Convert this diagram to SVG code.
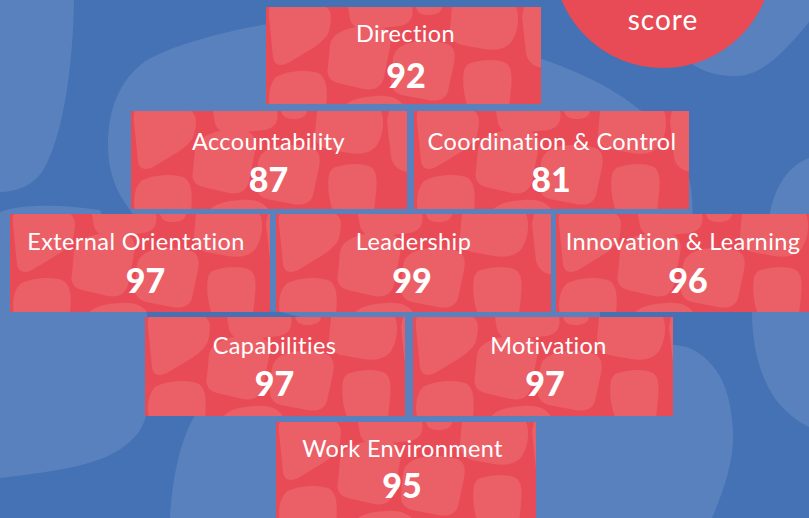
<svg xmlns="http://www.w3.org/2000/svg" width="809" height="518" viewBox="0 0 809 518">
<defs>
<style>
.bg{fill:#4472b4}
.blob{fill:#5881be}
.box{fill:#e84b55}
.tex{fill:url(#tex)}
.lbl{font-family:Lato,"Open Sans","Liberation Sans",sans-serif;font-size:23.5px;letter-spacing:0.4px;fill:#ffffff;text-anchor:middle}
.num{font-family:Lato,"Liberation Sans",sans-serif;font-weight:900;font-size:34px;fill:#ffffff;text-anchor:middle}
.score{font-family:Lato,"Open Sans","Liberation Sans",sans-serif;font-size:28px;fill:#ffffff;text-anchor:middle;letter-spacing:1px}
</style>
<pattern id="tex" patternUnits="objectBoundingBox" x="0" y="0" width="1" height="1">
<g fill="#eb5f67">
<path d="M4,0 L60,0 C66,4 66,12 63,24 C60,32 52,38 42,44 L22,56 C14,60 8,58 7,50 L4,20 C3,10 2,3 4,0 Z"/>
<path d="M70,28 C80,20 100,16 115,20 C124,23 126,30 124,40 L118,70 C116,80 108,84 98,82 L72,76 C64,74 60,68 62,60 L64,38 C65,33 67,30 70,28 Z"/>
<path d="M82,0 L146,0 C148,10 144,17 134,19 L102,22 C92,23 86,19 84,12 Z"/>
<path d="M132,42 C140,34 160,32 178,36 C188,38 190,46 188,56 L182,84 C180,92 172,95 162,93 L136,88 C128,86 124,80 125,72 L127,52 C128,47 129,44 132,42 Z"/>
<path d="M186,0 L250,0 C254,10 252,24 246,34 C240,42 230,44 218,42 L196,38 C188,36 184,30 184,22 Z"/>
<path d="M205,56 C218,52 232,52 240,56 C246,60 246,70 245,82 L243,100 L202,100 C198,90 196,75 198,64 C199,60 201,57 205,56 Z"/>
<path d="M10,70 C20,64 40,62 52,66 C60,70 62,80 60,100 L4,100 C2,90 3,78 10,70 Z"/>
<path d="M78,100 C82,94 92,90 110,89 C125,88 134,92 138,100 Z"/>
<path d="M150,0 L176,0 C175,6 170,8 162,8 C155,8 151,5 150,0 Z"/>
<path d="M258,0 L280,0 L280,60 C270,62 262,56 260,46 L256,10 Z"/>
</g>
</pattern>
</defs>
<rect class="bg" x="0" y="0" width="809" height="518"/>
<g id="background">
<path class="blob" d="M0,0 L74,0 C73,70 62,140 42,172 C32,186 16,192 0,192 Z"/>
<path class="blob" d="M273,23 C215,33 165,48 143,63 C118,82 108,112 108,145 C108,178 120,200 140,222 C155,245 165,280 178,308 L280,312 L360,332 C300,360 220,390 195,415 C180,440 172,480 170,518 L712,518 C722,495 735,460 733,430 C731,395 722,370 700,354 C690,346 675,344 662,345 C640,346 610,335 600,318 L600,312 L690,240 C700,180 680,130 640,110 C610,85 570,68 530,55 C440,30 340,15 273,23 Z"/>
<path class="blob" d="M640,0 L809,0 L809,22 C790,45 765,75 738,76 C715,77 698,70 684,58 Z"/>
<path class="blob" d="M809,158 C790,165 775,185 770,213 L752,313 C752,350 762,385 782,407 C792,417 800,423 809,427 Z"/>
<path class="blob" d="M0,212 C20,204 60,204 100,210 L147,313 L147,410 C145,430 130,445 110,455 C85,467 50,472 0,478 Z"/>
</g>
<g id="score">
<circle cx="663" cy="-42" r="110" fill="#e84b55"/>
<text class="score" x="663" y="30">score</text>
</g>
<g id="connectors"></g>
<g id="direction">
<rect class="box" x="266" y="7" width="275" height="97"/><rect class="tex" x="266" y="7" width="275" height="97"/>
<text class="lbl" x="405.5" y="42">Direction</text><text class="num" x="406" y="88">92</text>
</g>
<g id="accountability">
<rect class="box" x="131" y="111" width="276" height="98"/><rect class="tex" x="131" y="111" width="276" height="98"/>
<text class="lbl" x="268.5" y="150">Accountability</text><text class="num" x="268.5" y="192">87</text>
</g>
<g id="coordination">
<rect class="box" x="414" y="111" width="275" height="98"/><rect class="tex" x="414" y="111" width="275" height="98"/>
<text class="lbl" x="552" y="150">Coordination &amp; Control</text><text class="num" x="551" y="192">81</text>
</g>
<g id="external">
<rect class="box" x="10" y="214" width="260" height="98"/><rect class="tex" x="10" y="214" width="260" height="98"/>
<text class="lbl" x="136" y="250">External Orientation</text><text class="num" x="145.5" y="293">97</text>
</g>
<g id="leadership">
<rect class="box" x="276" y="214" width="275" height="98"/><rect class="tex" x="276" y="214" width="275" height="98"/>
<text class="lbl" x="413.5" y="250">Leadership</text><text class="num" x="412" y="293">99</text>
</g>
<g id="innovation">
<rect class="box" x="556" y="214" width="276" height="98"/><rect class="tex" x="556" y="214" width="276" height="98"/>
<text class="lbl" x="683" y="250">Innovation &amp; Learning</text><text class="num" x="688" y="293">96</text>
</g>
<g id="capabilities">
<rect class="box" x="145" y="317" width="260" height="99"/><rect class="tex" x="145" y="317" width="260" height="99"/>
<text class="lbl" x="274.5" y="354">Capabilities</text><text class="num" x="274.5" y="395.5">97</text>
</g>
<g id="motivation">
<rect class="box" x="413" y="317" width="260" height="99"/><rect class="tex" x="413" y="317" width="260" height="99"/>
<text class="lbl" x="548.5" y="354">Motivation</text><text class="num" x="545" y="396">97</text>
</g>
<g id="work-environment">
<rect class="box" x="276" y="422" width="260" height="100"/><rect class="tex" x="276" y="422" width="260" height="100"/>
<text class="lbl" x="402.5" y="457">Work Environment</text><text class="num" x="402" y="498">95</text>
</g>
</svg>
